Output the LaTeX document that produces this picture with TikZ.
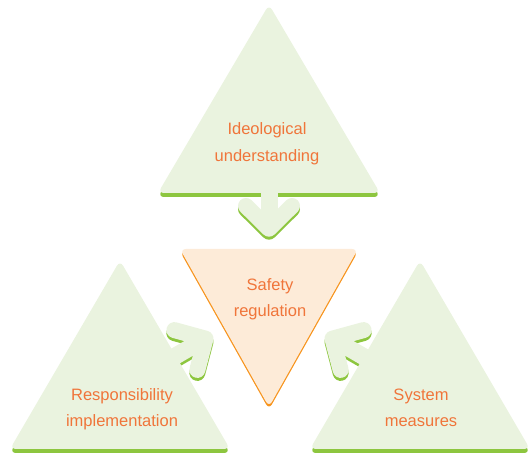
\documentclass[tikz,border=0pt]{standalone}
\usepackage{fontspec}
\setmainfont{Liberation Sans}
\definecolor{lgreen}{RGB}{234,243,223}
\definecolor{dgreen}{RGB}{141,198,63}
\definecolor{peach}{RGB}{253,235,216}
\definecolor{orangeline}{RGB}{247,148,29}
\definecolor{txtc}{RGB}{240,117,58}
\tikzset{
  lbl/.style={text=txtc, font=\fontsize{16.5}{26.5}\selectfont, inner sep=0pt, anchor=base},
  trishadow/.style={fill=dgreen, rounded corners=6pt},
  trifill/.style={fill=lgreen, rounded corners=6pt},
  armline/.style={line width=16pt, line cap=round, line join=round},
  stemline/.style={line width=17pt, line cap=butt},
}
\newcommand\chevronarrow[1]{%
  \draw[#1, armline] (246,206) -- (269,228.7) -- (292,206);
  \draw[#1, stemline] (269,186) -- (269,229);
}
\begin{document}
\begin{tikzpicture}[x=1pt,y=-1pt]
\useasboundingbox (0,0) rectangle (528,454);
% triangle shadows (only the base band)
\begin{scope}
  \clip (0,186) rectangle (528,200);
  \fill[trishadow] (269,8.5) -- (380,197) -- (158,197) -- cycle;
\end{scope}
\begin{scope}
  \clip (0,442) rectangle (528,460);
  \fill[trishadow] (120,264.5) -- (230,453) -- (10,453) -- cycle;
  \fill[trishadow] (420,264.5) -- (530,453) -- (310,453) -- cycle;
\end{scope}
% arrow shadows
\begin{scope}[shift={(0,3)}]
  \chevronarrow{dgreen}
  \begin{scope}[rotate around={120:(269,302)}]
    \chevronarrow{dgreen}
  \end{scope}
  \begin{scope}[rotate around={-120:(269,302)}]
    \chevronarrow{dgreen}
  \end{scope}
\end{scope}
% triangle fills
\fill[trifill] (269,4.5) -- (380,193) -- (158,193) -- cycle;
\fill[trifill] (120,260.5) -- (230,449) -- (10,449) -- cycle;
\fill[trifill] (420,260.5) -- (530,449) -- (310,449) -- cycle;
% arrow fills
\chevronarrow{lgreen}
\begin{scope}[rotate around={120:(269,302)}]
  \chevronarrow{lgreen}
\end{scope}
\begin{scope}[rotate around={-120:(269,302)}]
  \chevronarrow{lgreen}
\end{scope}
% center triangle
\fill[orangeline, rounded corners=6pt] (180,251.5) -- (358,251.5) -- (269,409.5) -- cycle;
\fill[peach, rounded corners=6pt] (180,249) -- (358,249) -- (269,407) -- cycle;
% labels
\node[lbl] (ideo) at (267,135) {\begin{tabular}[t]{@{}c@{}}Ideological\\understanding\end{tabular}};
\node[lbl] (safe) at (270,290.5) {\begin{tabular}[t]{@{}c@{}}Safety\\regulation\end{tabular}};
\node[lbl] (resp) at (122,400.5) {\begin{tabular}[t]{@{}c@{}}Responsibility\\implementation\end{tabular}};
\node[lbl] (sys) at (421,400.5) {\begin{tabular}[t]{@{}c@{}}System\\measures\end{tabular}};
\end{tikzpicture}
\end{document}
